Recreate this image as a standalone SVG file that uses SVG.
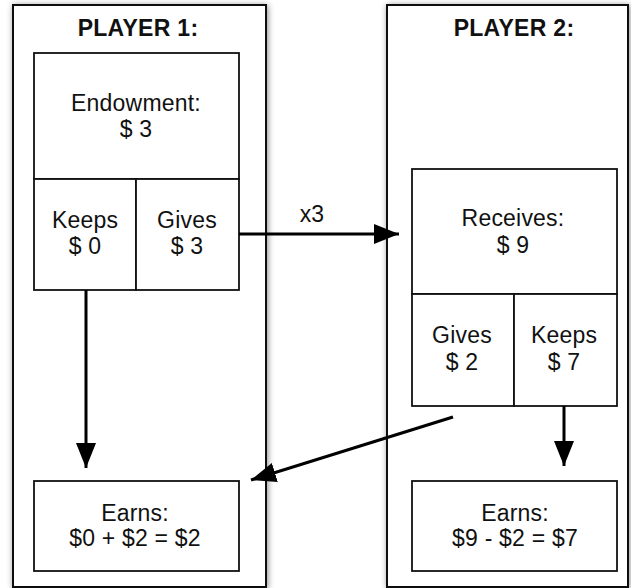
<svg xmlns="http://www.w3.org/2000/svg" width="631" height="588" viewBox="0 0 631 588">
<style>
  .outer { fill: #fff; stroke: #111; stroke-width: 2; }
  .box { fill: #fff; stroke: #111; stroke-width: 1.8; }
  .t { font-family: "Liberation Sans", Arial, sans-serif; font-size: 23px; letter-spacing: 0.2px; fill: #111; text-anchor: middle; }
  .h { font-family: "Liberation Sans", Arial, sans-serif; font-size: 23px; letter-spacing: 0.3px; font-weight: bold; fill: #111; text-anchor: middle; }
  .arr { stroke: #000; stroke-width: 3; fill: none; marker-end: url(#ah); }
</style>
<defs>
  <filter id="sh" x="-10%" y="-10%" width="120%" height="120%">
    <feDropShadow dx="1" dy="1" stdDeviation="3" flood-color="#000" flood-opacity="0.45"/>
  </filter>
  <marker id="ah" markerUnits="userSpaceOnUse" markerWidth="26" markerHeight="20" refX="25" refY="10" orient="auto">
    <path d="M0,0 L25,10 L0,20 Z" fill="#000"/>
  </marker>
</defs>
<g id="player1">
  <rect class="outer" x="13" y="5" width="253" height="582" filter="url(#sh)"/>
  <text class="h" x="138" y="36">PLAYER 1:</text>
</g>
<g id="player2">
  <rect class="outer" x="387" y="5" width="241" height="582" filter="url(#sh)"/>
  <text class="h" x="514" y="36">PLAYER 2:</text>
</g>
<g id="endowment">
  <rect class="box" x="34" y="53" width="205" height="126"/>
  <text class="t" x="136" y="111">Endowment:</text>
  <text class="t" x="136" y="137">$ 3</text>
</g>
<g id="p1keeps">
  <rect class="box" x="34" y="179" width="102" height="111"/>
  <text class="t" x="85" y="228">Keeps</text>
  <text class="t" x="85" y="254">$ 0</text>
</g>
<g id="p1gives">
  <rect class="box" x="136" y="179" width="103" height="111"/>
  <text class="t" x="187" y="228">Gives</text>
  <text class="t" x="187" y="254">$ 3</text>
</g>
<g id="receives">
  <rect class="box" x="412" y="169" width="205" height="125"/>
  <text class="t" x="513" y="226">Receives:</text>
  <text class="t" x="513" y="253">$ 9</text>
</g>
<g id="p2gives">
  <rect class="box" x="412" y="294" width="102" height="112"/>
  <text class="t" x="462" y="343">Gives</text>
  <text class="t" x="462" y="370">$ 2</text>
</g>
<g id="p2keeps">
  <rect class="box" x="514" y="294" width="103" height="112"/>
  <text class="t" x="564" y="343">Keeps</text>
  <text class="t" x="564" y="370">$ 7</text>
</g>
<g id="p1earns">
  <rect class="box" x="34" y="481" width="205" height="90"/>
  <text class="t" x="135" y="521">Earns:</text>
  <text class="t" x="135" y="546">$0 + $2 = $2</text>
</g>
<g id="p2earns">
  <rect class="box" x="412" y="481" width="205" height="90"/>
  <text class="t" x="515" y="521">Earns:</text>
  <text class="t" x="515" y="546">$9 - $2 = $7</text>
</g>
<g id="connectors">
  <line class="arr" x1="239" y1="234" x2="399" y2="234"/>
  <text class="t" x="312" y="222">x3</text>
  <line class="arr" x1="86" y1="290" x2="86" y2="468"/>
  <line class="arr" x1="453" y1="417" x2="251" y2="480"/>
  <line class="arr" x1="564" y1="406" x2="564" y2="466"/>
</g>
</svg>
